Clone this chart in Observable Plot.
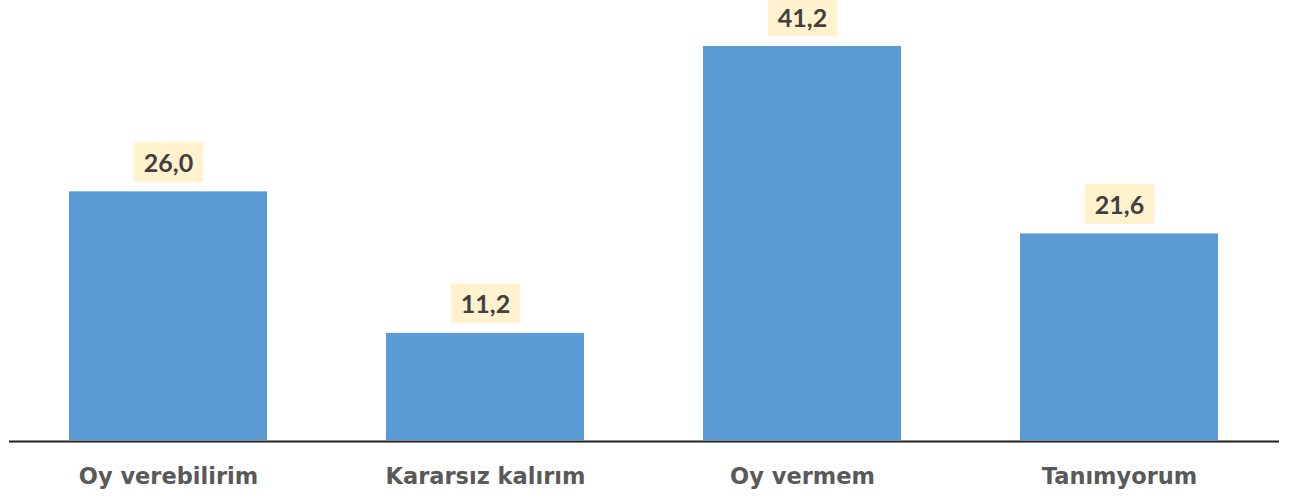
<!DOCTYPE html>
<html>
<head>
<meta charset="utf-8">
<script src="https://cdn.jsdelivr.net/npm/d3@7"></script>
<script src="https://cdn.jsdelivr.net/npm/@observablehq/plot@0.6"></script>
<style>
  html, body { margin: 0; padding: 0; background: #fff; }
  #chart { width: 1292px; height: 500px; }
</style>
</head>
<body>
<div id="chart"></div>
<script>
const categories = ["Oy verebilirim", "Kararsız kalırım", "Oy vermem", "Tanımyorum"];
const values = [26.0, 11.2, 41.2, 21.6];
const valueLabels = ["26,0", "11,2", "41,2", "21,6"];

const data = categories.map((c, i) => ({category: c, value: values[i], label: valueLabels[i]}));

const FONT = "Lato, 'DejaVu Sans', sans-serif";

const chart = Plot.plot({
  width: 1292,
  height: 500,
  marginLeft: 9,
  marginRight: 13,
  marginTop: 0,
  marginBottom: 60,
  style: {fontFamily: FONT, background: "#fff"},
  x: {domain: categories, paddingInner: 0.375, paddingOuter: 0.1875, label: null},
  y: {domain: [0, 41.2], range: [440, 46], axis: null},
  marks: [
    Plot.barY(data, {x: "category", y: "value", fill: "#5b9bd5"}),
    Plot.ruleY([0], {stroke: "#1f1f1f", strokeWidth: 2, dy: 1}),
    Plot.text(data, {x: "category", y: "value", text: "label", dy: -28, fill: "#404040",
      fontSize: 25, fontWeight: "bold", className: "vlabel"}),
    Plot.axisX({tickSize: 0, tickPadding: 28, fontSize: 22.5, fontWeight: "bold", fill: "#595959",
      fontFamily: "'DejaVu Sans', sans-serif", label: null})
  ]
});

document.getElementById("chart").appendChild(chart);

// background boxes behind value labels
d3.select(chart).selectAll("g.vlabel text").each(function() {
  const bb = this.getBBox();
  const padX = 10;
  const h = 40;
  const cy = bb.y + bb.height / 2;
  const g = this.parentNode;
  const r = document.createElementNS("http://www.w3.org/2000/svg", "rect");
  r.setAttribute("x", bb.x - padX);
  r.setAttribute("y", cy - h / 2);
  r.setAttribute("width", bb.width + 2 * padX);
  r.setAttribute("height", h);
  r.setAttribute("fill", "#fff2cc");
  const t = this.getAttribute("transform");
  if (t) r.setAttribute("transform", t);
  g.insertBefore(r, this);
});
</script>
</body>
</html>
